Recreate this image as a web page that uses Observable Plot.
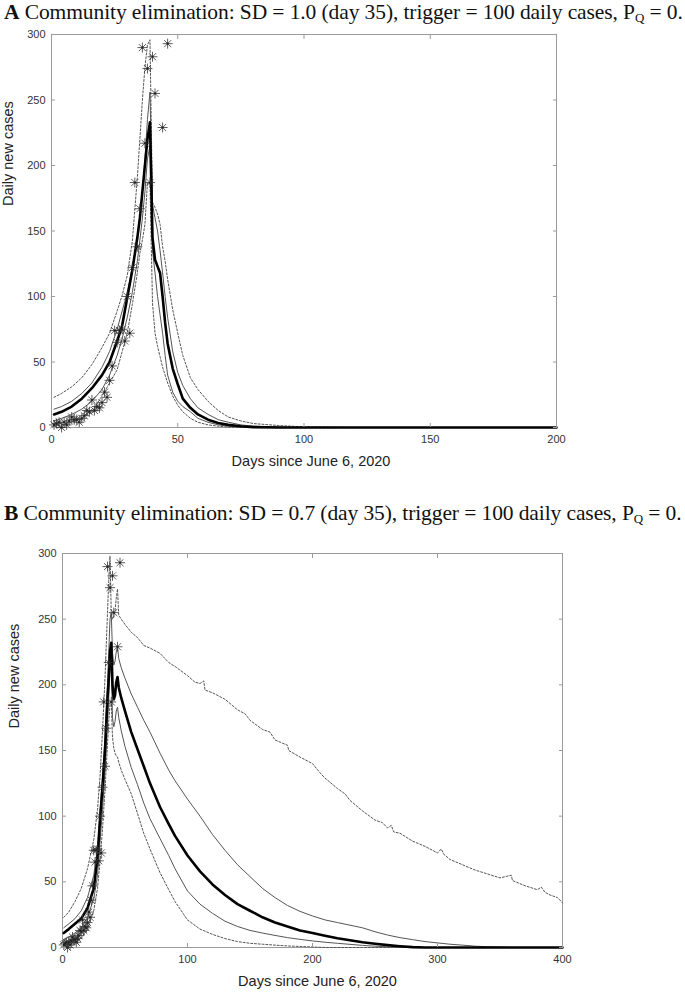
<!DOCTYPE html>
<html>
<head>
<meta charset="utf-8">
<script src="https://cdn.jsdelivr.net/npm/d3@7"></script>
<script src="https://cdn.jsdelivr.net/npm/@observablehq/plot@0.6"></script>
<style>
  html, body { margin: 0; padding: 0; background: #fff; }
  body { width: 685px; }
  .title { font-family: "Liberation Serif", "Times New Roman", serif; font-size: 21.5px; color: #111; white-space: nowrap; padding-left: 4px; height: 24px; line-height: 24px; letter-spacing: -0.1px; }
  .title sub { font-size: 13px; vertical-align: -3px; line-height: 0; }
  #titleB { margin-top: 24px; }
  svg { display: block; }
</style>
</head>
<body>
<div class="title" id="titleA"><b>A</b> Community elimination: SD = 1.0 (day 35), trigger = 100 daily cases, P<sub>Q</sub> = 0.</div>
<div id="chartA"></div>
<div class="title" id="titleB"><b>B</b> Community elimination: SD = 0.7 (day 35), trigger = 100 daily cases, P<sub>Q</sub> = 0.</div>
<div id="chartB"></div>
<script>
// ---- Observed daily cases (asterisks), shared by both panels ----
const obsDay   = [1,2,3,4,5,6,7,8,9,10,11,12,13,14,15,16,17,18,19,20,21,22,23,24,25,26,27,28,29,30,31,32,33,34,35,36,37,38,39,40,41,44,46];
const obsCases = [2,3,4,0,4,2,5,8,6,6,4,7,9,13,12,21,13,16,15,19,27,23,36,47,74,65,74,75,66,100,72,122,187,138,167,290,217,274,187,283,255,229,293];

// ---- Panel A (SD = 1.0): model quantiles ----
const aDay = [1,4,8,12,16,20,23,26,28,30,32,34,35,36,37,38,39,40,41,42,43,44,45,46,48,50,52,55,58,62,66,70,75,80,90,100,120,150,200];
const aMedian   = [10,12,16,22,30,40,50,66,78,99,120,145,160,180,200,220,233,145,128,123,118,100,80,64,45,33,22,15,10,6,3.5,2,1,0.3,0,0,0,0,0];
const aUpper    = [14,16,20,26,34,46,58,75,89,103,122,145,160,180,205,235,256,170,160,150,135,118,100,84,58,42,32,22,15,10,6,4,2,1,0.3,0,0,0,0];
const aLower    = [5,7,10,14,20,29,40,55,68,84,103,127,143,160,180,205,215,135,118,100,86,72,55,40,27,20,16,12,7,4,2,1,0.3,0,0,0,0,0,0];
const aUpperOut = [23,26,31,38,48,61,72,89,101,116,142,191,220,250,275,292,296,172,168,163,155,138,127,113,90,72,55,38,29,20,13,8,5,3,1.5,0.5,0,0,0];
const aLowerOut = [1,2,4,7,12,24,34,44,58,72,94,118,133,143,155,187,186,95,72,62,54,46,40,34,24,17,12,7,4,2,1,0.3,0,0,0,0,0,0,0];

// ---- Panel B (SD = 0.7): model quantiles ----
const bDay = [1,5,10,15,20,25,28,30,32,34,36,37,38,39,40,41,42,43,44,45,47,50,55,60,65,70,78,85,90,100,110,120,130,140,150,160,170,180,190,200,210,220,230,240,250,260,270,280,290,300,310,320,330,340,350,360,370,380,390,400];
const bMedian = [11,14,18,22,30,45,68,97,122,150,190,205,225,232,200,189,192,202,206,198,190,180,164,151,138,125,107,94,85,70,58,48,40,33,28,23,19,16,13,11,9,7,5.5,4,2.8,1.8,1,0.3,0,0,0,0,0,0,0,0,0,0,0,0];
const bUpper  = [15,18,22,28,38,55,75,103,130,160,200,225,250,255,225,215,218,225,229,220,213,205,193,183,173,164,148,135,127,113,100,86,74,63,54,45,38,32,27.5,24,21,19,17,15,12,9.5,7.5,6,4.5,3.5,2.5,1.8,1,0.6,0.3,0,0,0,0,0];
const bLower  = [6,8,11,15,23,37,55,80,105,135,170,190,210,215,175,168,172,180,183,175,165,153,137,124,110,98,83,70,60,43,33,26,20,16,13,11,9.2,7.5,6.2,5,4,3.2,2.4,1.6,1,0.5,0.2,0,0,0,0,0,0,0,0,0,0,0,0,0];
const bLowerOut = [1,2,4,7,14,28,45,65,90,120,155,172,185,187,160,152,148,146,145,141,135,128,117,102,87,75,57,44,35,21,14,10,6.8,4.5,3.2,2.5,1.8,1.2,0.8,0.4,0,0,0,0,0,0,0,0,0,0,0,0,0,0,0,0,0,0,0,0];
const bUpperOutDay = [1,5,10,15,20,25,28,30,32,34,36,37,38,39,40,41,42,43,44,45,47,50,55,60,65,70,78,85,90,100,106,110,113,114,120,126,130,140,146,150,160,166,170,180,181,190,200,206,210,220,226,230,240,250,256,260,263,265,270,280,290,300,303,305,310,320,330,340,350,359,360,370,380,383,386,390,396,400];
const bUpperOut    = [23,27,35,45,60,82,105,130,165,205,255,280,298,255,250,252,256,266,273,253,250,246,240,236,230,228,224,217,214,207,202,201,203,196,194,191,189,181,178,173,166,164,158,154,150,145,140,133,129,121,117,112,104,97,95,91,93,88,87,81,77,72,75,71,67,63,59,56,53,55,51,47,44,46,42,40,38,34];

// ---- Axis ticks ----
const yTicks = [0,50,100,150,200,250,300];
const xTicksA = [0,50,100,150,200];
const xTicksB = [0,100,200,300,400];

// 8-armed asterisk marker
const asterisk8 = {
  draw(ctx, size) {
    const r = Math.sqrt(size / Math.PI);
    for (let k = 0; k < 4; k++) {
      const a = k * Math.PI / 4;
      const c = Math.cos(a) * r, s = Math.sin(a) * r;
      ctx.moveTo(c, s); ctx.lineTo(-c, -s);
    }
  }
};

const FRAME = "#9a9a9a";
const styleLine = {
  median: {stroke: "#000", strokeWidth: 2.6},
  inner:  {stroke: "#555", strokeWidth: 1},
  outer:  {stroke: "#555", strokeWidth: 1, strokeDasharray: "2,1.8"}
};

function panel({xDomain, xTicks, marginLeft, marginRight, marginTop, marginBottom, height, series, ylabDx, ylabDy, xlabDx}) {
  const marks = [Plot.frame({stroke: FRAME})];
  for (const s of series) {
    marks.push(Plot.line(s.x, {x: d => d, y: s.y, ...styleLine[s.kind]}));
  }
  marks.push(
    Plot.dot(obsDay, {x: d => d, y: obsCases, symbol: asterisk8, r: 5, stroke: "#333", strokeWidth: 0.8, fill: "none"}),
    Plot.dot(obsDay, {x: d => d, y: obsCases, r: 1.1, fill: "#222", stroke: "none"}),
    Plot.axisX(xTicks, {anchor: "bottom", tickSize: -4, tickPadding: 12, label: null, stroke: FRAME, fill: "#333"}),
    Plot.axisX(xTicks, {anchor: "top", tickSize: -4, tickFormat: () => "", label: null, stroke: FRAME}),
    Plot.axisY(yTicks, {anchor: "left", tickSize: -4, tickPadding: 10, label: null, stroke: FRAME, fill: "#333"}),
    Plot.axisY(yTicks, {anchor: "right", tickSize: -4, tickFormat: () => "", label: null, stroke: FRAME}),
    Plot.text(["Daily new cases"], {frameAnchor: "left", rotate: -90, dx: ylabDx, dy: ylabDy, fontSize: 14.5, fill: "#222"}),
    Plot.text(["Days since June 6, 2020"], {frameAnchor: "bottom", dx: xlabDx, dy: 38, fontSize: 14.5, fill: "#222"})
  );
  return Plot.plot({
    width: 685, height, marginLeft, marginRight, marginTop, marginBottom,
    style: {fontFamily: "'Liberation Sans', Arial, sans-serif", fontSize: "11px", background: "#fff", color: "#333"},
    x: {domain: xDomain},
    y: {domain: [0, 300]},
    marks
  });
}

document.getElementById("chartA").append(panel({
  xDomain: [0, 200], xTicks: xTicksA,
  marginLeft: 51, marginRight: 129, marginTop: 10, marginBottom: 50, height: 453,
  ylabDx: -43, ylabDy: -25, xlabDx: 7,
  series: [
    {x: aDay, y: aUpperOut, kind: "outer"},
    {x: aDay, y: aLowerOut, kind: "outer"},
    {x: aDay, y: aUpper, kind: "inner"},
    {x: aDay, y: aLower, kind: "inner"},
    {x: aDay, y: aMedian, kind: "median"}
  ]
}));

document.getElementById("chartB").append(panel({
  xDomain: [0, 400], xTicks: xTicksB,
  marginLeft: 62, marginRight: 123, marginTop: 28, marginBottom: 47, height: 469,
  ylabDx: -48, ylabDy: -22, xlabDx: 5,
  series: [
    {x: bUpperOutDay, y: bUpperOut, kind: "outer"},
    {x: bDay, y: bLowerOut, kind: "outer"},
    {x: bDay, y: bUpper, kind: "inner"},
    {x: bDay, y: bLower, kind: "inner"},
    {x: bDay, y: bMedian, kind: "median"}
  ]
}));
</script>
</body>
</html>
